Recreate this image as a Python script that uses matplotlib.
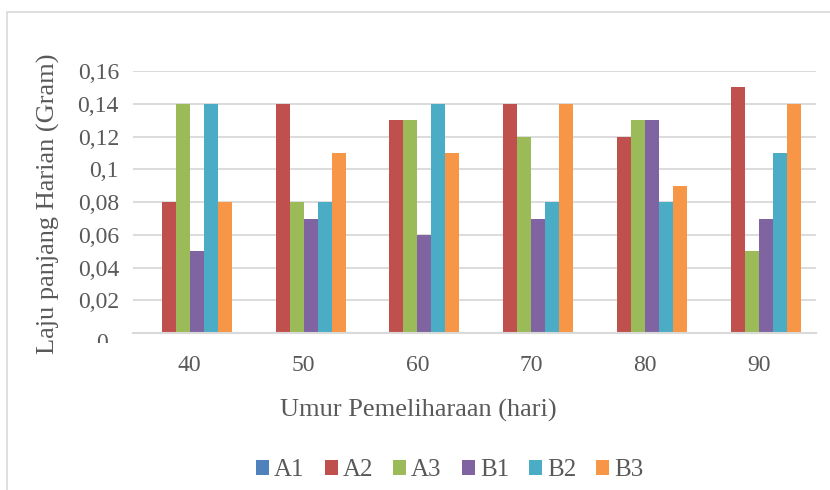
import matplotlib.pyplot as plt
import numpy as np
from matplotlib.patches import Rectangle

# data
umur = ['40', '50', '60', '70', '80', '90']
series = ['A1', 'A2', 'A3', 'B1', 'B2', 'B3']
A1 = [0, 0, 0, 0, 0, 0]
A2 = [0.08, 0.14, 0.13, 0.14, 0.12, 0.15]
A3 = [0.14, 0.08, 0.13, 0.12, 0.13, 0.05]
B1 = [0.05, 0.07, 0.06, 0.07, 0.13, 0.07]
B2 = [0.14, 0.08, 0.14, 0.08, 0.08, 0.11]
B3 = [0.08, 0.11, 0.11, 0.14, 0.09, 0.14]
values = [A1, A2, A3, B1, B2, B3]
colors = ['#4F81BD', '#C0504D', '#9BBB59', '#8064A2', '#4BACC6', '#F79646']

plt.rcParams['font.family'] = ['Liberation Serif', 'DejaVu Serif']
text_color = '#595959'

fig = plt.figure(figsize=(8.3, 4.9), dpi=100)
ax = fig.add_axes([0.160, 0.320, 0.823, 0.535])

# light frame around the chart area, like the Excel chart border
fig.patches.append(Rectangle((0.009, -0.01), 1.0, 0.985, transform=fig.transFigure,
                             fill=False, edgecolor='#D9D9D9', linewidth=1.2))

x = np.arange(len(umur))
w = 0.123
for i, (name, vals) in enumerate(zip(series, values)):
    ax.bar(x + (i - 2.5) * w, vals, width=w, color=colors[i], label=name, zorder=3)

ax.set_xlim(-0.5, len(umur) - 0.5)
ax.set_ylim(0, 0.16)
yt = np.arange(0.02, 0.161, 0.02)
ax.set_yticks(yt)
ax.set_yticklabels(['0,02', '0,04', '0,06', '0,08', '0,1', '0,12', '0,14', '0,16'])
ax.set_xticks(x)
ax.set_xticklabels(umur)
ax.tick_params(axis='both', length=0, labelsize=17, colors=text_color)
ax.tick_params(axis='x', pad=16)
ax.tick_params(axis='y', pad=10)

ax.yaxis.grid(True, color='#D9D9D9', linewidth=1.3, zorder=0)
for s in ['top', 'right', 'left']:
    ax.spines[s].set_visible(False)
ax.spines['bottom'].set_color('#D9D9D9')
ax.spines['bottom'].set_linewidth(1.5)
ax.spines['bottom'].set_zorder(4)

# the "0" label is partly cut off in the original
zero = fig.text(0.1225, 0.300, '0', fontsize=17, color=text_color, ha='center', va='center')
clip = Rectangle((0, 0.300), 1, 0.2, transform=fig.transFigure, visible=False)
fig.patches.append(clip)
zero.set_clip_path(clip)

fig.text(0.058, 0.585, 'Laju panjang Harian (Gram)', rotation=90, fontsize=19,
         color=text_color, ha='center', va='center')
fig.text(0.504, 0.163, 'Umur Pemeliharaan (hari)', fontsize=19,
         color=text_color, ha='center', va='center')

leg = fig.legend(loc='center', bbox_to_anchor=(0.542, 0.040), ncol=6, frameon=False,
                 fontsize=18, handlelength=0.52, handleheight=0.52, handletextpad=0.2,
                 columnspacing=0.8, labelcolor=text_color)

fig.savefig('out.png', dpi=100)
